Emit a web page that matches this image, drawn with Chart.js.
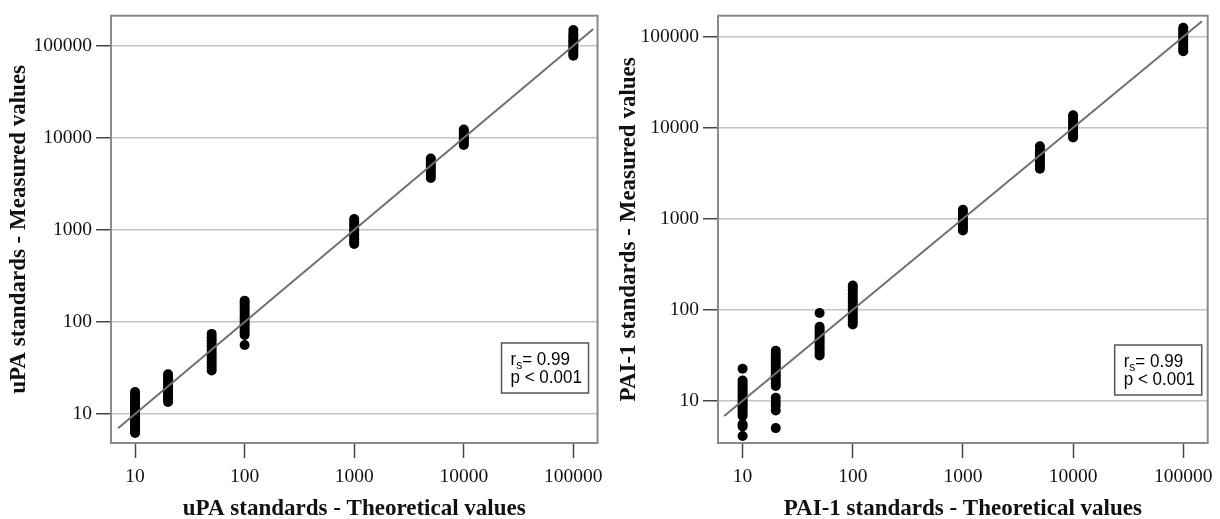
<!DOCTYPE html>
<html><head><meta charset="utf-8">
<script src="https://cdn.jsdelivr.net/npm/chart.js@4.4.0/dist/chart.umd.min.js"></script>
<style>
html,body{margin:0;padding:0;background:#fff;}
#wrap{position:relative;width:1220px;height:519px;overflow:hidden;}
.c{position:absolute;top:0;width:610px;height:519px;}
canvas{display:block;}
</style></head><body>
<div id="wrap">
<div class="c" style="left:0"><canvas id="c1" width="610" height="519"></canvas></div>
<div class="c" style="left:610px"><canvas id="c2" width="610" height="519"></canvas></div>
</div>
<script>
// ---- data ----
const tickValues = [10, 100, 1000, 10000, 100000];
const theoreticalLevels = [10, 20, 50, 100, 1000, 5000, 10000, 100000];

// uPA measured values at each theoretical level
const upa10 = [6.2, 6.5, 6.8, 7.1, 7.5, 7.9, 8.3, 8.7, 9.1, 9.5, 10, 10.5, 11, 11.6, 12.2, 12.8, 13.5, 14.3, 15.2, 16.2, 17.3];
const upa20 = [13.5, 14.3, 15.2, 16, 17, 18, 19, 20, 21.2, 22.5, 23.8, 25.2, 27];
const upa50 = [29.7, 32, 34.5, 37, 40, 43, 46, 50, 54, 58, 63, 68, 74];
const upa100 = [56, 72, 77, 82, 88, 94, 100, 107, 114, 122, 130, 140, 150, 160, 170];
const upa1000 = [700, 740, 790, 840, 890, 950, 1010, 1080, 1150, 1230, 1310];
const upa5000 = [3660, 3900, 4150, 4420, 4700, 5000, 5300, 5620, 5950];
const upa10000 = [8370, 8800, 9250, 9700, 10200, 10700, 11200, 11700, 12300];
const upa100000 = [77700, 82000, 87000, 92000, 97000, 103000, 109000, 115000, 121000, 128000, 136000, 148000];

// PAI-1 measured values at each theoretical level
const pai10 = [4.1, 5.2, 5.5, 6.8, 7.2, 7.7, 8.2, 8.7, 9.2, 9.7, 10.3, 10.9, 11.6, 12.3, 13.1, 13.9, 14.8, 15.7, 16.7, 22.5];
const pai20 = [5.0, 7.8, 8.8, 9.7, 10.8, 14.5, 15.5, 16.6, 17.8, 19, 20.3, 21.7, 23.2, 24.8, 26.5, 28.4, 30.4, 32.6, 35.5];
const pai50 = [31.4, 33.5, 36, 38.5, 41, 44, 47, 50, 53.5, 57, 61, 65, 92];
const pai100 = [69, 74, 79, 85, 91, 97, 104, 111, 119, 128, 138, 150, 163, 175, 185];
const pai1000 = [745, 790, 840, 890, 950, 1010, 1080, 1160, 1259];
const pai5000 = [3550, 3800, 4050, 4350, 4650, 5000, 5350, 5750, 6250];
const pai10000 = [7830, 8300, 8800, 9350, 9900, 10500, 11200, 12000, 12800, 13740];
const pai100000 = [69300, 73500, 78000, 83000, 88000, 94000, 100000, 106000, 113000, 120000, 126000];

// fit line end points (y = x)
const upaFit = [7, 152000];
const paiFit = [6.8, 148000];

const statR = '0.99';
const statP = 'p < 0.001';

// ---- build ----
const serif = "'Liberation Serif', 'Times New Roman', serif";
const sans = "'Liberation Sans', Arial, sans-serif";

function points(groups) {
  const out = [];
  groups.forEach((vals, i) => vals.forEach(v => out.push({x: theoreticalLevels[i], y: v})));
  return out;
}

const framePlugin = {
  id: 'frameBox',
  afterDatasetsDraw(chart, args, opts) {
    const {ctx, chartArea: a} = chart;
    ctx.save();
    ctx.strokeStyle = '#8a8a8a';
    ctx.lineWidth = 2;
    ctx.strokeRect(a.left, a.top, a.right - a.left, a.bottom - a.top);
    // stats box
    const bw = 87, bh = 50;
    const bx = a.right - opts.right - bw, by = a.bottom - opts.bottom - bh;
    ctx.fillStyle = '#fff';
    ctx.fillRect(bx, by, bw, bh);
    ctx.strokeStyle = '#555';
    ctx.lineWidth = 1.5;
    ctx.strokeRect(bx, by, bw, bh);
    ctx.fillStyle = '#000';
    ctx.textBaseline = 'alphabetic';
    ctx.textAlign = 'left';
    const sy = 1.12;
    ctx.translate(0, by);
    ctx.scale(1, sy);
    let tx = bx + 9, ty = 22 / sy;
    ctx.font = '17px ' + sans;
    ctx.fillText('r', tx, ty);
    tx += ctx.measureText('r').width;
    ctx.font = '12px ' + sans;
    ctx.fillText('s', tx, ty + 4);
    tx += ctx.measureText('s').width;
    ctx.font = '17px ' + sans;
    ctx.fillText('= ' + statR, tx, ty);
    ctx.fillText(statP, bx + 9, ty + 16.5);
    ctx.restore();
  }
};

function makeChart(id, groups, fit, cfg) {
  return new Chart(document.getElementById(id), {
    type: 'scatter',
    data: {
      datasets: [
        {
          type: 'line',
          data: [{x: fit[0], y: fit[0]}, {x: fit[1], y: fit[1]}],
          borderColor: '#707070',
          borderWidth: 2,
          pointRadius: 0,
          fill: false,
          order: 0
        },
        {
          data: points(groups),
          backgroundColor: '#000',
          borderWidth: 0,
          pointRadius: 5,
          order: 1
        }
      ]
    },
    options: {
      responsive: false,
      animation: false,
      events: [],
      layout: {padding: {left: 0, right: cfg.padRight, top: 11, bottom: 0}},
      plugins: {legend: {display: false}, tooltip: {enabled: false}, frameBox: {right: cfg.boxRight, bottom: cfg.boxBottom}},
      scales: {
        x: {
          type: 'logarithmic',
          bounds: 'data',
          min: cfg.xmin, max: cfg.xmax,
          afterBuildTicks: s => { s.ticks = tickValues.map(v => ({value: v})); },
          afterFit: s => { s.height = 76; },
          border: {display: false},
          grid: {drawOnChartArea: false, drawTicks: true, tickLength: 15, tickColor: '#444', tickWidth: 1.5},
          ticks: {color: '#111', font: {family: serif, size: 19.5}, padding: 7, maxRotation: 0, autoSkip: false, callback: v => String(v)},
          title: {display: true, text: cfg.xTitle, color: '#111', font: {family: serif, size: 23, weight: 'bold', lineHeight: 0.85}, padding: 0}
        },
        y: {
          type: 'logarithmic',
          bounds: 'data',
          min: cfg.ymin, max: cfg.ymax,
          afterBuildTicks: s => { s.ticks = tickValues.map(v => ({value: v})); },
          afterFit: s => { s.width = cfg.yWidth; },
          border: {display: false},
          grid: {color: '#c4c4c4', lineWidth: 1.5, tickLength: 15, tickColor: '#444', tickWidth: 1.5},
          ticks: {color: '#111', font: {family: serif, size: 19.5}, padding: 4, autoSkip: false, callback: v => String(v)},
          title: {display: true, text: cfg.yTitle, color: '#111', font: {family: serif, size: 23, weight: 'bold', lineHeight: 0.85}, padding: 9.5}
        }
      }
    },
    plugins: [framePlugin]
  });
}

makeChart('c1', [upa10, upa20, upa50, upa100, upa1000, upa5000, upa10000, upa100000], upaFit, {
  xTitle: 'uPA standards - Theoretical values',
  yTitle: 'uPA standards - Measured values',
  xmin: 6.03, xmax: 166200, ymin: 4.83, ymax: 212000,
  yWidth: 111, padRight: 8, boxRight: 9, boxBottom: 50
});
makeChart('c2', [pai10, pai20, pai50, pai100, pai1000, pai5000, pai10000, pai100000], paiFit, {
  xTitle: 'PAI-1 standards - Theoretical values',
  yTitle: 'PAI-1 standards - Measured values',
  xmin: 5.98, xmax: 166700, ymin: 3.43, ymax: 170700,
  yWidth: 108, padRight: 10, boxRight: 6, boxBottom: 48
});
</script>
</body></html>
